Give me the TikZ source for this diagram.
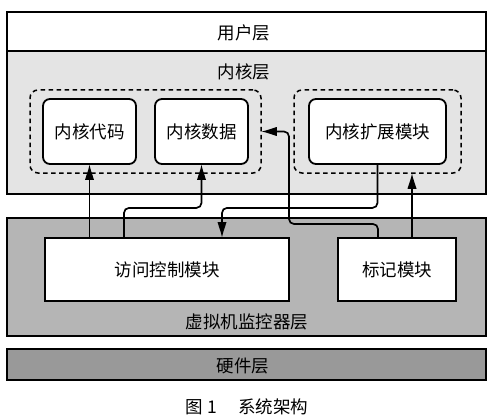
\documentclass[tikz,border=0pt]{standalone}
\usepackage{fontspec}
\newfontfamily\cjk{Noto Sans CJK SC}
\definecolor{kern}{HTML}{E4E4E4}
\definecolor{vmm}{HTML}{B5B5B5}
\definecolor{hw}{HTML}{999999}
\begin{document}
\begin{tikzpicture}[x=1pt,y=-1pt,
  every node/.style={font=\cjk\fontsize{17.5}{20}\selectfont},
  layer/.style={draw, line width=1.8pt, minimum width=479pt, inner sep=0pt},
  modbox/.style={draw, line width=1.8pt, fill=white, rounded corners=7pt, minimum height=65pt, inner sep=0pt},
  grp/.style={draw, line width=1.5pt, dash pattern=on 4.5pt off 3.5pt, rounded corners=8pt, minimum height=83pt, inner sep=0pt},
  vbox/.style={draw, line width=1.8pt, fill=white, minimum height=63pt, inner sep=0pt},
  conn/.style={line width=1.7pt, rounded corners=5pt},
  tiph/.pic={\fill (0,0) .. controls (-1,5) and (-3,10) .. (-4.5,15) -- (4.5,15) .. controls (3,10) and (1,5) .. cycle;},
  lbl/.style={inner sep=0pt}]
\useasboundingbox (0,0) rectangle (492,417);
% layers
\node[layer, fill=white, minimum height=39pt] (user) at (246.5,31.5) {};
\node[layer, fill=kern, minimum height=143pt] (kernel) at (246.5,122.5) {};
\node[layer, fill=vmm, minimum height=118pt] (vmmL) at (246.5,277) {};
\node[layer, fill=hw, minimum height=31pt] (hwL) at (246.5,364.5) {};
\node[lbl] (tuser) at (244,33) {用户层};
\node[lbl] (tkern) at (244,72) {内核层};
\node[lbl] (tvmm) at (247,322) {虚拟机监控器层};
\node[lbl] (thw) at (243,366) {硬件层};
\node[lbl] (cap) at (247,407) {图 1\hspace{1.2em}系统架构};
% kernel groups
\node[grp, minimum width=231pt] (grpL) at (145.5,131.5) {};
\node[grp, minimum width=167pt] (grpR) at (377.5,131.5) {};
\node[modbox, minimum width=93pt] (kc) at (89.5,131.5) {内核代码};
\node[modbox, minimum width=93pt] (kd) at (201.5,131.5) {内核数据};
\node[modbox, minimum width=137pt] (ke) at (377.5,131.5) {内核扩展模块};
% vmm modules
\node[vbox, minimum width=244pt] (ac) at (167,269.5) {访问控制模块};
\node[vbox, minimum width=118pt] (mk) at (397,269.5) {标记模块};
% connector anchors
\coordinate (a1) at ([xshift=-43pt]ac.north);
\coordinate (a2) at ([xshift=55pt]ac.north);
\coordinate (m1) at ([xshift=-19pt]mk.north);
\coordinate (m2) at ([xshift=15pt]mk.north);
\coordinate (j1) at (289,224);
\coordinate (e5) at (m2 |- grpR.south);
\coordinate (b1) at ([yshift=-14pt]kc.south);
\coordinate (b2) at ([yshift=-14pt]kd.south);
\coordinate (b3) at ([yshift=14pt]a2);
\coordinate (b4) at ([xshift=14pt]grpL.east);
\coordinate (b5) at ([yshift=-14pt]e5);
% connectors
\draw[conn] (kc.south |- ac.north) -- (b1);
\pic at (kc.south) {tiph};
\draw[conn] (a1) |- ([yshift=-43pt]kd.south) -- (b2);
\pic at (kd.south) {tiph};
\draw[conn] (ke.south) -- ([yshift=-43pt]ke.south) -| (b3);
\pic[rotate=180] at (a2) {tiph};
\draw[conn] (m1) |- (j1) |- (b4);
\pic[rotate=90] at (grpL.east) {tiph};
\draw[conn] (m2) -- (b5);
\pic at (e5) {tiph};
\end{tikzpicture}
\end{document}
